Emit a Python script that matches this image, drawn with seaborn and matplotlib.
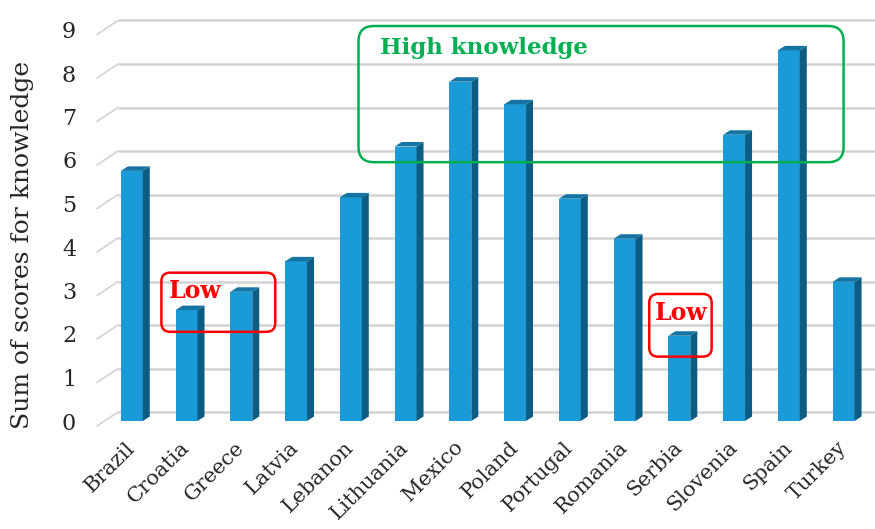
import matplotlib
matplotlib.use('Agg')
import matplotlib.pyplot as plt
from matplotlib.patches import Polygon, FancyBboxPatch
import seaborn as sns

# Data
countries = ['Brazil', 'Croatia', 'Greece', 'Latvia', 'Lebanon', 'Lithuania', 'Mexico',
             'Poland', 'Portugal', 'Romania', 'Serbia', 'Slovenia', 'Spain', 'Turkey']
scores = [5.75, 2.55, 2.97, 3.67, 5.14, 6.31, 7.8, 7.28, 5.11, 4.19, 1.96, 6.58, 8.52, 3.2]
y_ticks = [0, 1, 2, 3, 4, 5, 6, 7, 8, 9]

front_col = '#1a9ad6'
side_col = '#0c5c84'
top_col = '#1474a4'
grid_col = '#d3d3d3'
red = '#ff0000'
green = '#00b050'

sns.set_style('white')
plt.rcParams['font.family'] = ['DejaVu Serif']

fig = plt.figure(figsize=(8.75, 5.29), dpi=100)
W, H = 875, 529
ax = fig.add_axes([97 / W, (H - 421) / H, (862 - 97) / W, (421 - 29.5) / H])

sns.barplot(x=countries, y=scores, color=front_col, saturation=1, width=0.4,
            ax=ax, zorder=3, edgecolor='none')

ax.set_ylim(0, 9)
ax.set_xlim(-0.636, 13.336)

# pixels per data unit
ux = ax.get_position().width * W / (ax.get_xlim()[1] - ax.get_xlim()[0])
uy = ax.get_position().height * H / 9

# back wall gridlines with a small perspective offset
gx, gy = 21 / ux, 9 / uy
x0, x1 = ax.get_xlim()
for k in y_ticks:
    ax.plot([x0 + gx, x1 + gx], [k + gy, k + gy], color=grid_col, lw=1.8,
            zorder=0, clip_on=False, solid_capstyle='butt')
    ax.plot([x0, x0 + gx], [k - 5 / uy, k + gy], color=grid_col, lw=1.2,
            zorder=0, clip_on=False)

# 3D side and top faces of each bar
dx, dy = 7 / ux, 4.5 / uy
for p in ax.patches:
    xl = p.get_x()
    xr = xl + p.get_width()
    h = p.get_height()
    side = Polygon([(xr, 0), (xr + dx, dy), (xr + dx, h + dy), (xr, h)],
                   closed=True, facecolor=side_col, edgecolor='none', zorder=3)
    top = Polygon([(xl, h), (xr, h), (xr + dx, h + dy), (xl + dx, h + dy)],
                  closed=True, facecolor=top_col, edgecolor='none', zorder=3)
    ax.add_patch(side)
    ax.add_patch(top)

for s in ax.spines.values():
    s.set_visible(False)
ax.set_yticks(y_ticks)
ax.tick_params(axis='y', length=0, pad=15, labelsize=16)
ax.tick_params(axis='x', length=0, pad=17, labelsize=15)
for lab in ax.get_xticklabels():
    lab.set_rotation(45)
    lab.set_ha('right')
    lab.set_va('center')
    lab.set_rotation_mode('anchor')
ax.set_xlabel('')
ax.set_ylabel('Sum of scores for knowledge', fontsize=18)
ax.yaxis.set_label_coords(-0.083, 0.45)

# annotation boxes
aspect = ux / uy


def rbox(xa, xb, ya, yb, col, r):
    b = FancyBboxPatch((xa, ya), xb - xa, yb - ya,
                       boxstyle=f'round,pad=0,rounding_size={r}',
                       mutation_aspect=aspect, facecolor='none', edgecolor=col,
                       lw=1.8, zorder=5, clip_on=False)
    ax.add_patch(b)


rbox(0.54, 2.62, 2.05, 3.41, red, 0.16)
ax.text(0.68, 3.0, 'Low', color=red, fontsize=17, fontweight='bold',
        ha='left', va='center', zorder=6)
rbox(9.45, 10.59, 1.48, 2.92, red, 0.16)
ax.text(10.03, 2.48, 'Low', color=red, fontsize=17, fontweight='bold',
        ha='center', va='center', zorder=6)
rbox(4.14, 13.0, 5.95, 9.08, green, 0.28)
ax.text(4.53, 8.57, 'High knowledge', color=green, fontsize=16.5, fontweight='bold',
        ha='left', va='center', zorder=6)

fig.savefig('out.png', dpi=100)
